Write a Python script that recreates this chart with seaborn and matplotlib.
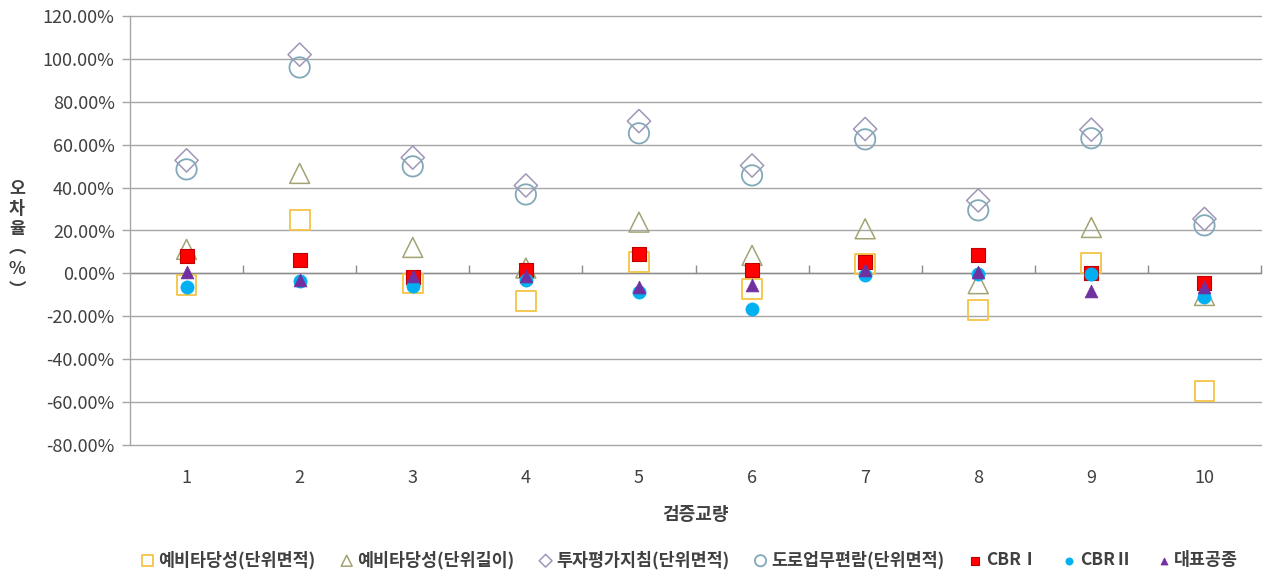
import matplotlib
matplotlib.use("Agg")
import matplotlib.pyplot as plt
import seaborn as sns
import numpy as np
import pandas as pd
from matplotlib.ticker import FuncFormatter, FixedLocator

# 검증교량 번호
bridges = [1, 2, 3, 4, 5, 6, 7, 8, 9, 10]

# 오차율 (%)
pre_area = [-5.5, 24.7, -4.7, -12.8, 5.3, -7.1, 4.5, -17.2, 4.7, -54.9]      # 예비타당성(단위면적)
pre_length = [11.2, 46.6, 12.1, 2.5, 23.9, 8.4, 20.8, -4.8, 21.4, -10.3]     # 예비타당성(단위길이)
invest_area = [52.7, 102.0, 54.0, 41.0, 71.0, 50.3, 67.3, 34.0, 67.0, 25.4]  # 투자평가지침(단위면적)
road_area = [48.5, 96.0, 49.9, 36.8, 65.3, 45.7, 62.5, 29.4, 63.0, 22.4]     # 도로업무편람(단위면적)
cbr1 = [7.9, 6.1, -1.7, 1.4, 9.2, 1.4, 5.3, 8.4, 0.0, -4.5]                  # CBR Ⅰ
cbr2 = [-6.4, -3.7, -5.8, -3.3, -8.7, -16.5, -0.9, -0.5, -0.2, -11.0]        # CBRⅡ
rep_work = [0.8, -3.3, -1.4, -1.0, -6.4, -5.6, 1.4, 0.6, -8.4, -6.5]         # 대표공종

series_names = ["예비타당성(단위면적)", "예비타당성(단위길이)", "투자평가지침(단위면적)",
                "도로업무편람(단위면적)", "CBRⅠ", "CBRⅡ", "대표공종"]
series_values = [pre_area, pre_length, invest_area, road_area, cbr1, cbr2, rep_work]

y_ticks = [-80, -60, -40, -20, 0, 20, 40, 60, 80, 100, 120]

# 계열별 마커 스타일: (marker, size, face, edge, linewidth)
styles = [
    ("s", 205, "none", "#F4C446", 1.3),
    ("^", 205, "none", "#A3A374", 1.1),
    ("D", 140, "none", "#A096B8", 1.1),
    ("o", 215, "none", "#82A9B9", 1.3),
    ("s", 115, "#FF0000", "#C00000", 0.8),
    ("o", 90, "#00B0F0", "#00B0F0", 0.5),
    ("^", 85, "#7030A0", "#7030A0", 0.5),
]

records = []
for name, vals in zip(series_names, series_values):
    for b, v in zip(bridges, vals):
        records.append({"series": name, "bridge": b, "error": v})
df = pd.DataFrame(records)

sns.set_theme(style="white")
plt.rcParams["font.family"] = ["Noto Sans CJK KR", "DejaVu Sans"]

fig = plt.figure(figsize=(12.68, 5.73), dpi=100)
ax = fig.add_axes([130 / 1268, 1 - 445 / 573, (1261 - 130) / 1268, (445 - 16) / 573])

grid_color = "#A6A6A6"
for yv in y_ticks:
    ax.axhline(yv, color=grid_color, lw=1.0, zorder=0, clip_on=False)

for name, (mk, sz, fc, ec, lw) in zip(series_names, styles):
    sub = df[df["series"] == name]
    sns.scatterplot(data=sub, x="bridge", y="error", ax=ax, marker=mk, s=sz,
                    facecolors=fc, edgecolors=ec, linewidths=lw,
                    label=name, zorder=3, clip_on=False)

ax.set_xlim(0.5, 10.5)
ax.set_ylim(-80, 120)

ax.yaxis.set_major_locator(FixedLocator(y_ticks))
ax.yaxis.set_major_formatter(FuncFormatter(lambda v, p: f"{v:.2f}%"))
ax.set_xticks(bridges)
ax.set_xticklabels([str(b) for b in bridges])

ax.tick_params(axis="y", left=True, length=6, width=1, color=grid_color,
               labelsize=13, labelcolor="#404040", pad=5)
ax.tick_params(axis="x", bottom=False, length=0, labelsize=13,
               labelcolor="#404040", pad=17)

for side in ["top", "right", "bottom"]:
    ax.spines[side].set_visible(False)
ax.spines["left"].set_color(grid_color)
ax.spines["left"].set_linewidth(1.0)

# 0% 위치의 가로축과 구간 눈금
zero_axis = ax.secondary_xaxis(80 / 200)
zero_axis.set_xticks(np.arange(1.5, 11.0, 1.0))
zero_axis.set_xticklabels([])
zero_axis.tick_params(direction="in", length=6, width=1, color="#8C8C8C")
zero_axis.spines["bottom"].set_color("#8C8C8C")
zero_axis.spines["bottom"].set_linewidth(1.0)

ax.set_xlabel("검증교량", fontsize=13, fontweight="bold", color="#404040", labelpad=13)
ax.set_ylabel("")
fig.text(17 / 1268, 1 - 239 / 573, "오\n차\n율\n︵\n%\n︶", ha="center", va="center",
         fontsize=12.5, fontweight="bold", color="#404040", linespacing=1.16)

handles, labels = ax.get_legend_handles_labels()
leg = fig.legend(handles, labels, loc="center", bbox_to_anchor=(0.543, 1 - 560 / 573),
                 ncol=7, frameon=False, markerscale=0.55, handletextpad=0.1,
                 columnspacing=1.3, handlelength=1.0,
                 prop={"size": 12.5, "weight": "bold"})
for t in leg.get_texts():
    t.set_color("#404040")
if ax.get_legend():
    ax.get_legend().remove()

fig.savefig("out.png", dpi=100)
